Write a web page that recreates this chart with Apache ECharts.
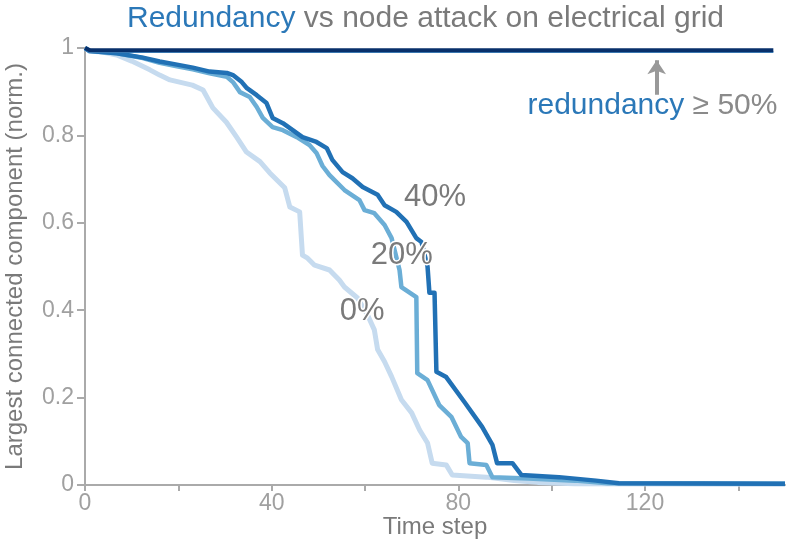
<!DOCTYPE html>
<html>
<head>
<meta charset="utf-8">
<script src="https://cdn.jsdelivr.net/npm/echarts@6/dist/echarts.min.js"></script>
<style>html,body{margin:0;padding:0;background:#fff}#c{width:789px;height:542px}</style>
</head>
<body>
<div id="c"></div>
<script>
// ---- data ----
var seriesNames = ['0%', '20%', '40%', '≥50% (lower)', '≥50%'];
var red0 = [[0,1],[1,0.993],[4,0.99],[6.8,0.984],[10,0.97],[13.9,0.95],[16,0.938],[18.2,0.927],[23,0.915],[25.3,0.904],[27.4,0.863],[30.3,0.83],[32.5,0.796],[34.6,0.762],[37.5,0.74],[39.6,0.714],[42.8,0.68],[43.9,0.636],[46,0.625],[46.6,0.526],[47.7,0.519],[49.2,0.503],[52.4,0.492],[54.5,0.469],[55.6,0.453],[58.4,0.428],[60.5,0.39],[62,0.355],[62.7,0.31],[64.2,0.282],[65.7,0.248],[67.8,0.195],[70,0.165],[71.7,0.126],[73.4,0.096],[74.4,0.05],[77.4,0.046],[78.7,0.023],[86,0.018],[92,0.01],[97,0.006],[105,0.003],[150,0.002]];
var red20 = [[0,1],[1,0.993],[6.8,0.988],[12.4,0.977],[16,0.966],[19.7,0.958],[23.1,0.951],[26.7,0.942],[30.4,0.934],[31.7,0.922],[33.2,0.899],[35.3,0.888],[36.8,0.865],[38.1,0.84],[40.2,0.819],[42.4,0.812],[45.4,0.796],[48.1,0.778],[49.6,0.76],[50.9,0.73],[52.4,0.709],[55.6,0.675],[58.8,0.652],[59.9,0.629],[62,0.622],[64.2,0.595],[65.7,0.565],[67.4,0.492],[67.8,0.453],[71,0.43],[71.2,0.256],[73.4,0.24],[75.9,0.183],[78.5,0.156],[80.6,0.11],[82,0.096],[82.4,0.05],[86,0.046],[87.3,0.018],[95,0.015],[105,0.01],[112,0.004],[150,0.003]];
var red40 = [[0,1],[1,0.993],[6.8,0.988],[12.4,0.978],[16,0.969],[19.7,0.962],[23.1,0.955],[26.7,0.946],[30.4,0.943],[31.7,0.938],[33.6,0.922],[34.7,0.908],[36.8,0.892],[38.9,0.874],[40.2,0.84],[42.4,0.828],[44.5,0.812],[46.6,0.796],[49.6,0.785],[51.8,0.771],[53,0.744],[55.2,0.716],[57.3,0.702],[59.5,0.682],[62.7,0.664],[64.2,0.64],[66.7,0.625],[68.9,0.602],[71,0.565],[72.1,0.556],[73.4,0.5],[73.8,0.44],[74.9,0.44],[75.3,0.259],[77.4,0.247],[81.3,0.19],[85.1,0.133],[87.3,0.092],[88.3,0.05],[91.6,0.05],[93.5,0.023],[101.6,0.018],[109.5,0.01],[114.4,0.004],[150,0.003]];
var red50low = [[0,1],[1,0.991],[147.5,0.991]];
var red50 = [[0,1],[1,0.995],[147.5,0.995]];
var xTicks = [0, 40, 80, 120];
var yTicks = [0, 0.2, 0.4, 0.6, 0.8, 1];
var curveLabels = [
  {text: '40%', at: [75, 0.657]},
  {text: '20%', at: [67.9, 0.526]},
  {text: '0%', at: [59.4, 0.398]}
];
var arrowFrom = [122.5, 0.893];
var arrowTo = [122.5, 0.972];
var noteAt = [121.6, 0.868];

// ---- chart ----
var FONT = 'Liberation Sans';
var chart = echarts.init(document.getElementById('c'), null, {renderer: 'canvas'});
var colors = ['#c6dbef', '#6baed6', '#2171b5', '#4a8fc7', '#08306b'];
var widths = [5, 4.5, 4.5, 2, 4];
var datasets = [red0, red20, red40, red50low, red50];
var series = datasets.map(function (d, i) {
  var s = {
    name: seriesNames[i], type: 'line', data: d, showSymbol: false, symbol: 'none',
    lineStyle: {color: colors[i], width: widths[i], join: 'round'},
    itemStyle: {color: colors[i]}, z: 2 + i, silent: true, animation: false
  };
  if (i === 4) {
    s.markLine = {
      silent: true, animation: false,
      symbol: ['none', 'arrow'], symbolSize: [14, 14],
      lineStyle: {color: '#999', width: 4, type: 'solid'},
      label: {show: false},
      data: [[{coord: arrowFrom}, {coord: arrowTo}]]
    };
  }
  return s;
});

chart.setOption({
  animation: false,
  title: {
    left: 122, top: -1,
    text: '{a|Redundancy}{b| vs node attack on electrical grid}',
    textStyle: {
      fontWeight: 'normal',
      rich: {
        a: {color: '#2b78b8', fontSize: 30, fontFamily: FONT, fontWeight: 'normal'},
        b: {color: '#7a7a7a', fontSize: 30, fontFamily: FONT, fontWeight: 'normal'}
      }
    }
  },
  grid: {left: 85, right: 4, top: 48, bottom: 57, containLabel: false, outerBoundsMode: 'none'},
  xAxis: {
    type: 'value', min: 0, max: 150, interval: 20,
    name: 'Time step', nameLocation: 'middle', nameGap: 30, nameMoveOverlap: false,
    nameTextStyle: {color: '#7a7a7a', fontSize: 24, fontFamily: FONT, verticalAlign: 'top'},
    axisLine: {show: true, lineStyle: {color: '#aaaaaa', width: 2}},
    axisTick: {show: true, length: 6, lineStyle: {color: '#aaaaaa', width: 2}},
    splitLine: {show: false},
    axisLabel: {
      color: '#a0a0a0', fontSize: 23, fontFamily: FONT, margin: 7, showMaxLabel: false,
      formatter: function (v) { return xTicks.indexOf(v) >= 0 ? String(v) : ''; }
    }
  },
  yAxis: {
    type: 'value', min: 0, max: 1, interval: 0.2,
    name: 'Largest connected component (norm.)', nameLocation: 'middle', nameGap: 58, nameMoveOverlap: false,
    nameTextStyle: {color: '#7a7a7a', fontSize: 24, fontFamily: FONT},
    axisLine: {show: true, lineStyle: {color: '#aaaaaa', width: 2}},
    axisTick: {show: true, length: 8, lineStyle: {color: '#aaaaaa', width: 2}},
    splitLine: {show: false},
    axisLabel: {
      color: '#a0a0a0', fontSize: 23, fontFamily: FONT, margin: 11,
      formatter: function (v) {
        for (var k = 0; k < yTicks.length; k++) if (Math.abs(yTicks[k] - v) < 1e-9) return String(yTicks[k]);
        return '';
      }
    }
  },
  series: series
});

var gfx = curveLabels.map(function (l) {
  var p = chart.convertToPixel({gridIndex: 0}, l.at);
  return {
    type: 'text', x: p[0], y: p[1], z: 100,
    style: {text: l.text, fill: '#7a7a7a', font: '31px "' + FONT + '"', align: 'center', verticalAlign: 'middle',
            stroke: '#fff', lineWidth: 3}
  };
});
var np = chart.convertToPixel({gridIndex: 0}, noteAt);
gfx.push({
  type: 'text', x: np[0], y: np[1], z: 100,
  style: {
    text: '{a|redundancy}{b| ≥ 50%}', align: 'center', verticalAlign: 'middle',
    rich: {
      a: {fill: '#2b78b8', fontSize: 30, fontFamily: FONT},
      b: {fill: '#8a8a8a', fontSize: 30, fontFamily: FONT}
    }
  }
});
chart.setOption({graphic: gfx});
</script>
</body>
</html>
